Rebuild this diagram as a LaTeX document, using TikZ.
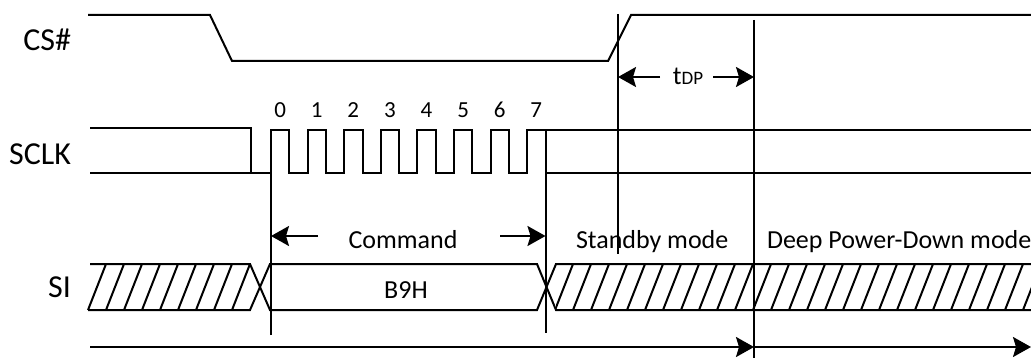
\documentclass[tikz,border=0pt]{standalone}
\usepackage{fontspec}
\setmainfont{Carlito}
\usepackage{tikz}
\usetikzlibrary{arrows.meta}
\usetikzlibrary{positioning}
\tikzset{
  arr/.style={-{Stealth[length=9pt,width=10pt,inset=1.5pt]}},
  lbl/.style={inner sep=0pt,font=\fontsize{13}{15}\selectfont},
  sig/.style={inner sep=0pt,font=\fontsize{16}{18}\selectfont},
  bitnum/.style={inner sep=0pt,font=\fontsize{11.5}{13}\selectfont}
}

\begin{document}
\begin{tikzpicture}[line cap=butt,line join=miter,x=0.5pt,y=-0.5pt,line width=1pt]
\useasboundingbox (0,0) rectangle (1031,358);
% CS#
\node[sig,anchor=base east] (cs) at (72,51) {CS\#};
\draw (88,15) -- (210,15) -- (232,61) -- (608,61) -- (631,15) -- (1031,15);
% SCLK
\node[sig,anchor=base east] (sclk) at (72,164) {SCLK};
\draw (90,128) -- (251,128) -- (251,173) -- (90,173);
\draw (251,173) -- (271,173);
\draw (271,335) -- (271,130) -- (289.3,130)
  \foreach \k in {1,...,7} {
    -- ({289.3+36.6*(\k-1)},173) -- ({270.9+36.6*\k},173)
    -- ({270.9+36.6*\k},130) -- ({289.3+36.6*\k},130) }
  -- (1031,130);
\draw (545.5,130) -- (545.5,333);
\draw (545.5,173) -- (1031,173);
\foreach \k in {0,...,7}
  \node[bitnum,anchor=base] (bit\k) at ({280.1+36.6*\k},118) {\k};
% markers
\draw (618,14) -- (618,254);
\draw (754,20) -- (754,358);
\draw[arr] (660,77) -- (618,77);
\draw[arr] (713,77) -- (754,77);
\node[lbl,anchor=base] (tdp) at (688,84) {t{\fontsize{9.5}{11}\selectfont DP}};
\draw[arr] (318,236) -- (271,236);
\draw[arr] (500,236) -- (545.5,236);
\node[lbl,anchor=base] (cmd) at (403,248) {Command};
\node[lbl,anchor=base west] (stby) at (575,248) {Standby mode};
\node[lbl,anchor=base west] (dpd) at (766,248) {Deep Power-Down mode};
% SI
\node[sig,anchor=base east] (si) at (72,297) {SI};
\draw (90,264) -- (250,264) -- (270,310) -- (537,310) -- (556,264) -- (1031,264);
\draw (88,310) -- (250,310) -- (270,264) -- (537,264) -- (556,310) -- (1031,310);
\foreach \k in {0,...,8}
  \draw ({88+18*\k},310) -- ({106+18*\k},264);
\begin{scope}
\clip (556,264) rectangle (1031,310);
\foreach \k in {1,...,27}
  \draw ({537+18*\k},310) -- ({555+18*\k},264);
\end{scope}
\node[lbl,anchor=base] (b9h) at (406,298) {B9H};
% time line
\draw[arr] (90,347) -- (754,347);
\draw[arr] (754,347) -- (1031,347);
\end{tikzpicture}
\end{document}
